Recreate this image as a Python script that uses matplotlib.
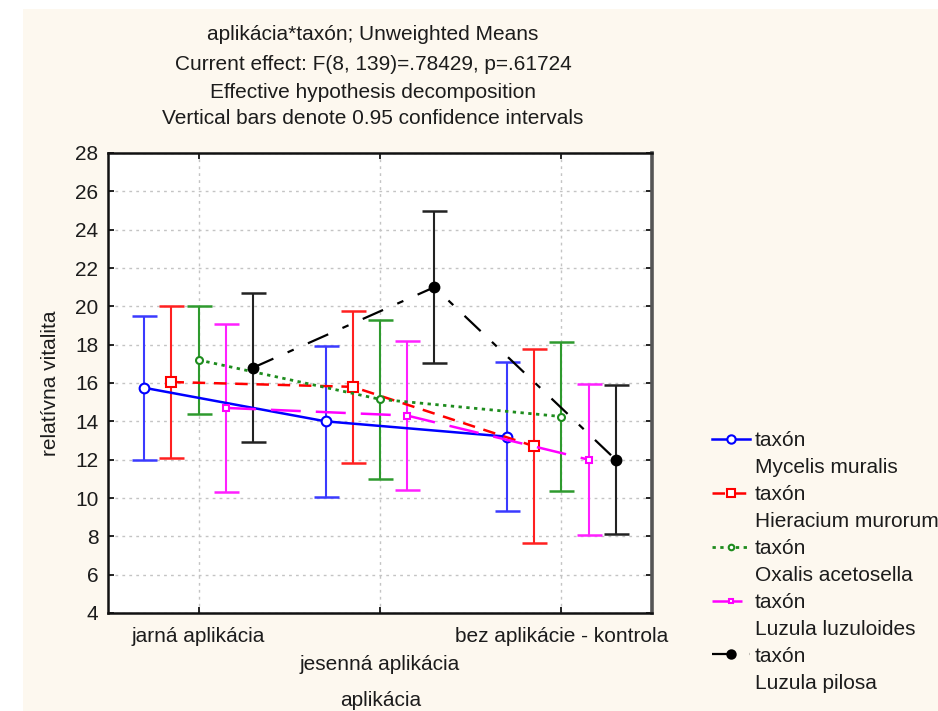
import matplotlib
matplotlib.use("Agg")
import matplotlib.pyplot as plt
from matplotlib.lines import Line2D
from matplotlib.patches import Rectangle
import numpy as np

plt.rcParams['font.family'] = ['Liberation Sans', 'DejaVu Sans']

# Categories on the x axis
applications = ['jarná aplikácia', 'jesenná aplikácia', 'bez aplikácie - kontrola']

# Taxa (legend order)
taxa = ['Mycelis muralis', 'Hieracium murorum', 'Oxalis acetosella',
        'Luzula luzuloides', 'Luzula pilosa']

# Unweighted means of relative vitality
mean_mycelis = [15.75, 14.0, 13.2]
mean_hieracium = [16.05, 15.8, 12.7]
mean_oxalis = [17.2, 15.15, 14.25]
mean_luzuloides = [14.7, 14.3, 12.0]
mean_pilosa = [16.8, 21.0, 12.0]

# Half-widths of the 0.95 confidence intervals
ci_mycelis = [3.75, 3.95, 3.9]
ci_hieracium = [3.95, 3.95, 5.05]
ci_oxalis = [2.8, 4.15, 3.9]
ci_luzuloides = [4.4, 3.9, 3.95]
ci_pilosa = [3.9, 3.95, 3.9]

yticks = list(range(4, 29, 2))

title_lines = ['aplikácia*taxón; Unweighted Means',
               'Current effect: F(8, 139)=.78429, p=.61724',
               'Effective hypothesis decomposition',
               'Vertical bars denote 0.95 confidence intervals']

means = [mean_mycelis, mean_hieracium, mean_oxalis, mean_luzuloides, mean_pilosa]
cis = [ci_mycelis, ci_hieracium, ci_oxalis, ci_luzuloides, ci_pilosa]

styles = [
    dict(color='#0000ff', ls='-', marker='o', ms=7, mfc='white', lw=1.8, eb='#3a3aff'),
    dict(color='#ff0000', ls=(0, (5, 3.5)), marker='s', ms=7, mfc='white', lw=1.8, eb='#ff2020'),
    dict(color='#1e8c1e', ls=(0, (1.2, 1.6)), marker='o', ms=5, mfc='white', lw=2.0, eb='#2e9a2e'),
    dict(color='#ff00ff', ls=(0, (12, 6)), marker='s', ms=4.5, mfc='white', lw=1.8, eb='#ff20ff'),
    dict(color='#000000', ls=(0, (10, 7, 3, 7)), marker='o', ms=7, mfc='black', lw=1.6, eb='#222222'),
]
offsets = [-0.3, -0.15, 0.0, 0.15, 0.3]

TXT = '#1c1c1c'
FS = 15

W, H = 938, 711
fig = plt.figure(figsize=(W / 100, H / 100), dpi=100)
fig.patch.set_facecolor('white')
fig.patches.append(Rectangle((23 / W, 0), 1 - 23 / W, 1 - 9 / H,
                             transform=fig.transFigure, facecolor='#fdf8ef',
                             edgecolor='none', zorder=-10))

ax = fig.add_axes([108 / W, 1 - 613 / H, (652 - 108) / W, (613 - 153) / H])
ax.set_facecolor('white')

x = np.arange(len(applications))
for m, c, st, off in zip(means, cis, styles, offsets):
    xs = x + off
    ax.errorbar(xs, m, yerr=c, fmt='none', ecolor=st['eb'], elinewidth=1.5,
                capsize=9, capthick=1.8, zorder=2)
    ax.plot(xs, m, color=st['color'], linestyle=st['ls'], lw=st['lw'],
            marker=st['marker'], markersize=st['ms'], markerfacecolor=st['mfc'],
            markeredgecolor=st['color'], markeredgewidth=1.5, zorder=3)

ax.set_xlim(-0.5, 2.5)
ax.set_ylim(4, 28)
ax.set_yticks(yticks)
ax.set_xticks(x)
ax.set_xticklabels(applications)
ax.grid(True, color='#c4c4c4', linestyle=(0, (2, 3)), lw=1.0)
ax.set_axisbelow(True)

ax.tick_params(axis='both', direction='in', length=4, width=1.2,
               top=True, right=True, labelsize=FS, labelcolor=TXT)
ax.tick_params(axis='y', pad=7)
ax.tick_params(axis='x', pad=10)
ax.get_xaxis().get_major_ticks()[1].set_pad(30)

for s in ['left', 'bottom', 'top']:
    ax.spines[s].set_linewidth(1.8)
    ax.spines[s].set_color('#111111')
ax.spines['right'].set_linewidth(2.6)
ax.spines['right'].set_color('#555555')

ax.set_ylabel('relatívna vitalita', fontsize=FS, color=TXT, labelpad=11)
fig.text(381 / W, 1 - 700 / H, 'aplikácia', ha='center', va='center',
         fontsize=FS, color=TXT)

title_y = [34, 65, 92, 119]
for t, yy in zip(title_lines, title_y):
    fig.text(373 / W, 1 - yy / H, t, ha='center', va='center',
             fontsize=FS, color=TXT)

# Legend: marker entry "taxón" followed by the taxon name on its own row
handles, labels = [], []
for name, st in zip(taxa, styles):
    handles.append(Line2D([], [], color=st['color'], linestyle=st['ls'], lw=st['lw'],
                          marker=st['marker'], markersize=st['ms'] - 1,
                          markerfacecolor=st['mfc'], markeredgecolor=st['color'],
                          markeredgewidth=1.5))
    labels.append('taxón')
    handles.append(Line2D([], [], linestyle='none'))
    labels.append(name)

leg = fig.legend(handles, labels, loc='upper left',
                 bbox_to_anchor=(704 / W, 1 - 423 / H), frameon=False,
                 fontsize=FS, handlelength=1.8, handletextpad=0.25,
                 labelspacing=0.38, borderaxespad=0)
for txt in leg.get_texts():
    txt.set_color(TXT)

fig.savefig('out.png', dpi=100, facecolor=fig.get_facecolor())
